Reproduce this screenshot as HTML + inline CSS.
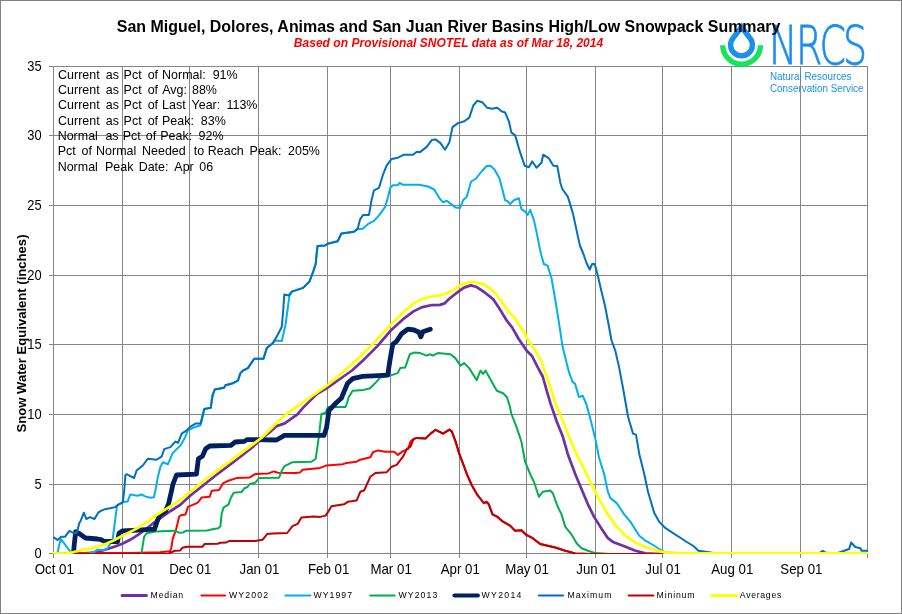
<!DOCTYPE html>
<html lang="en"><head><meta charset="utf-8"><title>San Miguel, Dolores, Animas and San Juan River Basins High/Low Snowpack Summary</title>
<style>
html,body{margin:0;padding:0;background:#fff;}
body{width:902px;height:614px;overflow:hidden;}
svg{display:block;}
text{font-family:"Liberation Sans",sans-serif;}
.ax{font-size:14px;fill:#000;}
.st{font-size:13.33px;fill:#000;white-space:pre;}
.lg{font-size:8.7px;fill:#000;}
.ln{fill:none;stroke-linejoin:round;stroke-linecap:round;}
</style></head><body>
<svg width="902" height="614" viewBox="0 0 902 614">
<rect x="0" y="0" width="902" height="614" fill="#fff"/>
<rect x="0.5" y="0.5" width="901" height="613" fill="none" stroke="#828282" stroke-width="1"/>

<g stroke="#868686" stroke-width="1" shape-rendering="crispEdges">
<line x1="49.0" y1="553.5" x2="868.0" y2="553.5"/>
<line x1="49.0" y1="484.5" x2="868.0" y2="484.5"/>
<line x1="49.0" y1="414.5" x2="868.0" y2="414.5"/>
<line x1="49.0" y1="344.5" x2="868.0" y2="344.5"/>
<line x1="49.0" y1="275.5" x2="868.0" y2="275.5"/>
<line x1="49.0" y1="205.5" x2="868.0" y2="205.5"/>
<line x1="49.0" y1="135.5" x2="868.0" y2="135.5"/>
<line x1="49.0" y1="66.5" x2="868.0" y2="66.5"/>
<line x1="53.5" y1="66.0" x2="53.5" y2="558.0"/>
<line x1="122.5" y1="66.0" x2="122.5" y2="558.0"/>
<line x1="189.5" y1="66.0" x2="189.5" y2="558.0"/>
<line x1="258.5" y1="66.0" x2="258.5" y2="558.0"/>
<line x1="327.5" y1="66.0" x2="327.5" y2="558.0"/>
<line x1="390.5" y1="66.0" x2="390.5" y2="558.0"/>
<line x1="459.5" y1="66.0" x2="459.5" y2="558.0"/>
<line x1="526.5" y1="66.0" x2="526.5" y2="558.0"/>
<line x1="595.5" y1="66.0" x2="595.5" y2="558.0"/>
<line x1="662.5" y1="66.0" x2="662.5" y2="558.0"/>
<line x1="731.5" y1="66.0" x2="731.5" y2="558.0"/>
<line x1="800.5" y1="66.0" x2="800.5" y2="558.0"/>
<line x1="867.5" y1="66.0" x2="867.5" y2="558.0"/>
</g>
<g id="logo">
<path d="M720.00,45.30 A21.6,21.6 0 0 0 763.20,45.30 L757.80,45.30 A16.2,16.2 0 0 1 725.40,45.30 Z" fill="#16E45C"/>
<path d="M741.50,22.60 L752.31,36.74 A13.60,13.60 0 1 1 730.69,36.74 Z M741.50,31.40 L748.04,40.06 A8.20,8.20 0 1 1 734.96,40.06 Z" fill="#1B8FEE" fill-rule="evenodd"/>
<text transform="translate(770,64.4) scale(0.71,1)" x="-1.4 36.6 69.7 102.8" y="0" font-weight="200" font-size="53.5" fill="#1B8FEE" stroke="#1B8FEE" stroke-width="0.7" vector-effect="non-scaling-stroke" style="font-family:'DejaVu Sans Light','DejaVu Sans',sans-serif;vector-effect:non-scaling-stroke">NRCS</text>
<text x="770" y="80.1" font-size="10" fill="#1B8FEE" textLength="81.5" lengthAdjust="spacingAndGlyphs">Natural Resources</text>
<text x="770" y="92.3" font-size="10" fill="#1B8FEE" textLength="93.5" lengthAdjust="spacingAndGlyphs">Conservation Service</text>
</g>
<g class="st">
<text transform="translate(0,78.8) scale(0.935,1)" x="62.1" y="0" dx="0 0 0 0 0 0 0 0 2.92 0 0 1.26 0 0 0 2.76 0 0 0.53 0 0 0 0 0 0 0 3.76 0 0">Current as Pct of Normal: 91%</text>
<text transform="translate(0,94.1) scale(0.935,1)" x="62.1" y="0" dx="0 0 0 0 0 0 0 0 2.92 0 0 1.26 0 0 0 2.76 0 0 1.49 0 0 0 0 1.63 0 0">Current as Pct of Avg: 88%</text>
<text transform="translate(0,109.4) scale(0.935,1)" x="62.1" y="0" dx="0 0 0 0 0 0 0 0 2.92 0 0 1.26 0 0 0 2.76 0 0 0.53 0 0 0 0 2.87 0 0 0 0 0 2.99 0 0 0">Current as Pct of Last Year: 113%</text>
<text transform="translate(0,124.7) scale(0.935,1)" x="62.1" y="0" dx="0 0 0 0 0 0 0 0 2.92 0 0 1.26 0 0 0 2.76 0 0 0.53 0 0 0 0 0 3.71 0 0">Current as Pct of Peak: 83%</text>
<text transform="translate(0,140.0) scale(0.935,1)" x="61.7" y="0" dx="0 0 0 0 0 0 0 4.36 0 0 0.72 0 0 0 1.69 0 0 0.64 0 0 0 0 0 3.18 0 0">Normal as Pct of Peak: 92%</text>
<text transform="translate(0,155.3) scale(0.935,1)" x="61.7" y="0" dx="0 0 0 0 2.44 0 0 0.85 0 0 0 0 0 0 2.44 0 0 0 0 0 0 4.85 0 0 0.26 0 0 0 0 0 2.53 0 0 0 0 0 3.34 0 0 0">Pct of Normal Needed to Reach Peak: 205%</text>
<text transform="translate(0,170.6) scale(0.935,1)" x="61.7" y="0" dx="0 0 0 0 0 0 0 3.93 0 0 0 0 1.91 0 0 0 0 0 3.32 0 0 0 2.29 0">Normal Peak Date: Apr 06</text>
</g>
<clipPath id="pc"><rect x="53" y="60" width="815" height="494"/></clipPath>
<g class="ln" clip-path="url(#pc)">
<path d="M53.5,554.0 L80.0,553.6 L95.0,552.6 L102.7,550.5 L108.3,548.8 L115.0,546.5 L122.3,543.8 L130.2,539.8 L138.4,534.6 L146.0,529.0 L154.5,522.3 L162.8,516.3 L170.6,511.0 L180.0,505.0 L190.5,495.5 L215.6,475.5 L235.6,460.4 L253.2,446.6 L262.0,438.5 L270.0,432.0 L276.7,426.1 L284.7,423.4 L297.4,414.4 L303.4,407.4 L316.8,394.1 L327.7,387.6 L343.5,376.5 L352.0,370.5 L364.1,359.4 L377.4,346.1 L390.8,330.5 L402.8,319.4 L413.5,311.4 L421.5,307.4 L430.8,305.2 L440.0,304.9 L444.7,303.4 L449.3,298.7 L456.0,293.4 L464.0,287.6 L470.7,285.4 L476.0,286.7 L484.1,292.0 L493.4,299.4 L498.7,307.4 L506.8,320.7 L512.1,327.4 L518.7,339.0 L526.7,350.7 L532.0,356.0 L537.4,366.7 L542.7,376.5 L546.7,390.7 L550.7,404.1 L554.7,415.5 L556.5,421.0 L562.8,436.6 L567.8,454.2 L575.3,474.2 L581.6,489.3 L587.9,504.3 L594.1,516.9 L600.4,526.9 L607.9,538.2 L612.9,541.9 L623.0,545.7 L635.5,550.7 L645.5,553.4 L660.0,554.0 L867.5,554.0" stroke="#7030A0" stroke-width="2.7"/>
<path d="M53.5,554.0 L64.0,554.0 L66.5,552.9 L130.0,552.9 L160.0,552.3 L170.0,551.3 L171.3,548.0 L172.8,538.4 L176.0,529.8 L179.2,516.5 L181.0,515.2 L185.5,514.4 L188.0,506.8 L196.8,503.1 L198.4,502.0 L201.7,497.4 L209.7,496.8 L211.7,490.8 L219.0,490.1 L223.0,483.4 L228.4,480.7 L236.4,478.1 L249.8,477.4 L255.1,474.1 L268.5,473.4 L273.8,471.4 L277.8,472.7 L295.0,473.0 L300.1,472.4 L302.6,469.7 L320.2,467.9 L326.5,465.4 L342.8,464.2 L346.5,462.9 L356.6,461.7 L360.3,459.7 L370.4,457.2 L372.9,452.2 L377.9,450.4 L385.4,451.7 L394.2,451.7 L397.9,454.9 L403.0,451.1 L408.0,449.1 L410.5,441.6 L413.5,439.1 L416.8,437.9 L425.5,438.6 L430.6,433.6 L435.6,429.8 L443.1,433.6 L449.4,429.6 L451.9,431.6 L455.6,441.6 L459.4,454.2 L463.2,464.2 L466.9,474.2 L471.9,485.5 L477.0,494.3 L481.0,499.5 L483.8,503.1 L486.3,501.8 L488.8,504.3 L492.5,514.4 L497.6,516.9 L502.6,521.4 L510.1,525.6 L515.1,530.7 L521.4,530.2 L526.4,534.9 L532.7,538.2 L540.2,544.0 L547.7,545.7 L555.2,547.5 L565.3,550.7 L575.3,553.4 L590.0,554.0 L662.0,554.0" stroke="#FF0000" stroke-width="2"/>
<path d="M53.5,554.0 L57.3,554.0 L58.3,549.0 L60.6,539.2 L61.4,539.6 L68.8,549.7 L72.0,554.0 L88.8,553.4 L94.5,551.8 L97.6,549.7 L103.9,550.3 L107.6,548.4 L108.9,545.9 L112.7,539.0 L115.2,519.6 L117.0,505.8 L118.3,504.6 L122.7,502.1 L127.7,501.4 L130.2,494.5 L137.7,495.8 L141.5,494.5 L145.2,496.4 L150.3,497.7 L153.9,497.2 L155.9,488.0 L157.9,476.7 L160.4,466.7 L162.9,462.2 L167.9,464.2 L172.9,452.9 L176.7,449.1 L180.5,445.4 L184.2,439.1 L188.0,430.3 L193.0,427.8 L200.5,425.3 L201.5,422.0 L204.3,409.0 L210.8,407.8 L211.8,400.0 L212.8,394.5 L214.8,389.4 L224.1,387.7 L225.4,385.2 L232.9,383.2 L237.9,380.7 L240.4,373.1 L242.9,370.6 L247.9,368.1 L254.2,358.8 L263.5,358.8 L266.8,348.1 L273.0,343.0 L274.3,340.5 L281.8,341.0 L285.6,324.2 L289.3,296.6 L291.8,291.6 L303.1,287.9 L309.4,281.6 L313.2,271.6 L315.7,264.0 L316.6,254.0 L317.6,246.0 L325.1,245.5 L327.6,243.7 L337.7,241.2 L341.4,233.4 L354.0,231.7 L357.7,229.2 L362.7,228.7 L367.8,224.2 L374.0,220.9 L379.0,215.4 L385.3,206.6 L387.8,197.8 L390.3,187.8 L392.8,185.3 L397.9,185.3 L399.6,182.8 L402.9,184.8 L419.2,184.8 L428.0,186.5 L434.2,189.5 L439.2,197.8 L443.0,202.3 L446.8,200.8 L450.5,203.6 L455.5,207.4 L460.1,207.9 L463.1,200.3 L466.8,196.6 L471.1,181.5 L475.6,179.0 L481.6,171.5 L486.6,166.0 L490.4,165.7 L494.5,169.5 L499.5,178.5 L502.6,190.3 L505.1,200.3 L507.6,201.1 L510.1,204.1 L513.9,200.3 L518.9,198.3 L521.4,209.1 L525.2,211.6 L527.7,214.9 L530.2,209.9 L534.0,220.4 L537.2,235.4 L540.2,250.5 L541.0,254.0 L543.8,264.0 L547.6,265.6 L551.5,278.0 L555.3,300.0 L558.8,321.7 L562.6,346.8 L566.4,361.9 L568.9,371.9 L572.6,381.9 L575.1,383.9 L578.9,397.0 L582.7,395.7 L586.6,405.0 L590.4,419.0 L595.4,439.1 L599.1,457.9 L604.2,474.2 L607.9,491.8 L610.4,498.1 L616.7,503.1 L624.2,514.4 L630.5,521.9 L639.3,535.7 L645.5,540.7 L653.1,545.0 L659.3,549.0 L665.6,552.6 L700.0,554.0 L867.5,554.0" stroke="#00B0F0" stroke-width="2"/>
<path d="M53.5,554.0 L141.0,554.0 L141.6,552.6 L144.1,536.9 L146.6,533.2 L155.4,531.4 L175.0,530.7 L179.0,532.7 L183.0,532.5 L186.3,530.7 L207.0,530.5 L213.7,529.1 L218.4,528.3 L220.4,526.1 L221.7,513.4 L223.7,507.4 L228.4,504.7 L231.1,497.4 L233.7,492.7 L241.8,491.9 L244.4,488.2 L247.5,487.0 L249.8,484.0 L255.1,482.8 L259.1,478.1 L279.1,477.7 L281.8,470.7 L284.5,466.1 L292.6,462.2 L311.4,461.7 L315.7,458.7 L318.9,436.6 L321.4,414.0 L325.7,412.8 L327.7,407.0 L345.5,407.0 L347.0,403.0 L348.8,397.0 L352.6,390.7 L363.9,389.9 L370.1,388.2 L376.4,381.9 L380.2,377.4 L390.2,375.6 L397.7,373.1 L400.2,368.1 L405.2,367.4 L409.8,354.3 L414.0,352.6 L420.3,353.1 L426.6,355.6 L430.3,354.3 L432.8,355.6 L437.9,353.1 L450.4,354.3 L455.4,358.1 L460.4,365.6 L464.2,363.1 L469.2,368.1 L476.7,380.2 L480.5,370.6 L483.0,373.9 L485.5,370.6 L490.5,379.4 L496.8,390.7 L503.1,393.2 L506.8,397.0 L509.5,405.0 L511.4,414.0 L516.4,426.6 L521.4,441.6 L525.1,461.7 L530.2,474.2 L533.9,481.8 L538.9,496.8 L542.7,491.8 L550.2,490.5 L552.7,493.0 L557.8,506.8 L561.5,514.4 L565.3,526.9 L571.5,534.4 L576.6,543.2 L581.6,548.2 L587.9,550.7 L595.4,553.1 L610.0,554.0 L867.5,554.0" stroke="#00B050" stroke-width="2"/>
<path d="M73.5,553.4 L74.2,545.0 L75.7,531.7 L78.8,533.3 L85.5,538.0 L97.6,539.0 L101.0,539.6 L104.5,541.5 L117.6,541.5 L119.0,533.3 L122.3,531.0 L137.7,530.2 L154.5,529.2 L157.2,521.2 L159.9,514.7 L165.3,511.5 L168.5,504.0 L171.7,490.0 L172.9,484.3 L176.5,475.0 L196.4,474.2 L198.4,458.7 L202.4,456.2 L205.7,448.7 L209.7,446.0 L231.0,445.4 L235.0,442.0 L244.4,441.4 L247.0,439.6 L276.5,440.0 L284.5,435.4 L324.0,435.4 L326.5,427.8 L329.0,410.3 L332.7,406.5 L336.0,403.0 L341.3,398.2 L347.6,383.2 L352.6,378.7 L362.6,376.4 L387.7,375.1 L389.7,361.9 L392.7,344.3 L396.5,341.3 L401.5,333.8 L407.8,329.2 L414.0,330.0 L419.0,332.3 L420.8,336.8 L422.8,331.8 L430.3,329.2" stroke="#002060" stroke-width="4.8"/>
<path d="M53.5,537.5 L54.4,537.8 L57.5,539.9 L61.3,536.8 L65.0,536.8 L69.4,530.9 L73.2,532.8 L75.0,533.4 L77.0,532.1 L79.4,522.7 L80.7,520.8 L83.8,512.7 L86.3,519.0 L90.1,517.1 L94.5,519.0 L98.2,512.7 L101.4,510.6 L105.8,508.9 L110.2,508.3 L115.2,507.1 L118.3,504.6 L122.7,502.6 L124.3,490.0 L125.3,475.5 L126.5,474.2 L134.1,478.0 L136.6,470.5 L142.8,465.5 L147.9,458.7 L156.6,459.7 L161.6,456.7 L164.2,449.1 L170.4,447.1 L175.4,441.6 L178.0,442.9 L181.7,433.6 L186.7,430.3 L190.5,426.6 L195.5,423.6 L200.5,423.6 L204.3,409.0 L210.8,407.8 L211.8,400.0 L212.8,394.5 L214.8,389.4 L224.1,387.7 L225.4,385.2 L232.9,383.2 L237.9,380.7 L240.4,373.1 L242.9,370.6 L247.9,368.1 L254.2,358.8 L263.5,358.8 L266.8,348.1 L273.0,343.0 L278.0,334.3 L281.8,326.7 L283.1,311.7 L284.3,294.6 L288.6,295.4 L291.8,291.6 L303.1,287.9 L309.4,281.6 L313.2,271.6 L315.7,264.0 L316.6,254.0 L317.6,246.0 L325.1,245.5 L327.6,243.7 L337.7,241.2 L341.4,233.4 L354.0,231.7 L357.7,228.4 L360.2,219.1 L363.2,214.9 L369.0,214.9 L371.5,200.3 L374.0,190.3 L379.0,187.8 L382.8,175.2 L386.6,165.7 L391.6,158.9 L397.9,157.7 L404.1,154.7 L412.9,154.7 L416.7,151.9 L420.4,151.9 L426.7,146.9 L431.7,140.1 L435.5,139.4 L440.5,143.1 L445.0,149.7 L449.3,142.6 L452.5,127.1 L458.0,123.1 L464.3,121.3 L469.3,117.6 L473.3,105.5 L477.2,100.8 L482.2,102.2 L487.2,107.8 L492.2,108.8 L497.3,107.8 L501.4,111.3 L505.1,112.5 L508.9,121.3 L511.4,132.6 L515.1,135.1 L520.2,152.7 L524.7,165.7 L528.9,167.2 L532.2,161.4 L536.5,167.7 L541.5,162.7 L543.2,154.7 L549.0,158.4 L553.3,165.7 L557.3,166.0 L560.3,182.8 L562.3,189.0 L567.8,196.6 L572.8,212.9 L576.6,230.4 L579.9,245.5 L583.4,254.0 L586.4,262.8 L589.7,269.5 L592.2,264.0 L594.7,264.0 L597.7,275.3 L601.5,291.6 L605.2,306.7 L609.0,326.7 L611.5,340.5 L615.3,350.6 L619.0,366.9 L622.8,386.9 L626.0,405.0 L628.0,416.5 L633.0,433.6 L636.0,434.6 L639.3,454.2 L644.3,474.2 L648.0,491.8 L654.3,513.1 L659.3,521.9 L665.6,528.2 L673.1,533.2 L680.0,537.5 L686.0,541.5 L693.4,546.0 L698.4,550.7 L705.7,551.8 L713.6,553.1 L740.0,554.0 L819.0,554.0 L820.2,552.6 L822.7,550.7 L825.2,552.6 L835.0,554.0 L841.5,551.8 L849.1,549.0 L851.1,542.5 L855.3,547.0 L860.4,548.2 L861.6,550.7 L867.5,550.7" stroke="#0070C0" stroke-width="2"/>
<path d="M53.5,554.0 L160.0,554.0 L168.0,554.0 L172.0,552.0 L175.0,550.8 L180.3,550.4 L182.3,547.8 L187.0,546.8 L202.4,546.8 L204.4,544.1 L217.7,543.7 L220.4,542.8 L226.4,542.5 L229.1,541.0 L255.1,541.0 L262.5,539.8 L267.1,534.1 L272.5,533.4 L287.2,533.0 L292.5,526.1 L297.6,523.9 L301.4,517.4 L313.9,516.4 L320.2,516.9 L325.7,515.6 L331.5,506.3 L344.0,504.3 L347.8,501.8 L356.6,500.6 L360.3,491.8 L364.1,490.5 L370.4,476.7 L375.4,473.0 L386.7,472.2 L391.7,466.7 L396.7,464.9 L403.0,456.7 L406.7,449.1 L410.5,446.6 L413.5,439.1 L416.8,437.9 L425.5,438.6 L430.6,433.6 L435.6,429.8 L443.1,433.6 L449.4,429.6 L451.9,431.6 L455.6,441.6 L459.4,454.2 L463.2,464.2 L466.9,474.2 L471.9,485.5 L477.0,494.3 L481.0,499.5 L483.8,503.1 L486.3,501.8 L488.8,504.3 L492.5,514.4 L497.6,516.9 L502.6,521.4 L510.1,525.6 L515.1,530.7 L521.4,530.2 L526.4,534.9 L532.7,538.2 L540.2,544.0 L547.7,545.7 L555.2,547.5 L565.3,550.7 L575.3,553.4 L590.0,554.0 L662.0,554.0" stroke="#C00000" stroke-width="2"/>
<path d="M53.5,553.4 L65.0,553.6 L72.6,552.3 L80.0,550.5 L90.0,548.6 L98.0,546.5 L106.1,543.8 L114.0,540.2 L122.3,535.7 L130.0,532.0 L138.4,527.6 L146.0,522.5 L154.5,516.3 L162.0,511.5 L170.6,506.1 L180.0,500.2 L195.5,487.5 L215.6,471.7 L233.1,459.2 L253.2,444.1 L262.0,437.5 L267.4,432.0 L276.7,422.8 L285.8,414.4 L303.4,402.1 L316.8,392.7 L327.7,385.0 L343.5,371.8 L356.8,360.0 L373.4,343.4 L390.8,324.7 L402.8,312.7 L413.5,303.4 L422.8,298.7 L433.5,296.0 L440.0,295.3 L445.3,294.0 L453.4,290.0 L461.4,284.7 L468.0,282.4 L474.7,282.4 L482.7,284.0 L489.4,288.0 L496.1,294.0 L502.8,303.4 L509.4,312.7 L513.4,316.3 L518.8,324.7 L524.1,332.1 L527.4,339.0 L534.7,349.3 L541.4,361.4 L545.4,373.4 L550.7,388.0 L556.1,405.4 L560.1,414.8 L562.8,421.0 L569.0,436.6 L576.6,454.2 L585.3,471.7 L592.9,486.8 L599.1,499.3 L607.9,514.4 L616.7,526.9 L625.5,535.7 L635.5,542.7 L645.5,547.0 L655.6,550.2 L665.6,552.6 L680.0,553.4 L867.5,553.4" stroke="#FFFF00" stroke-width="2.7"/>
</g>
<g class="ax" text-anchor="end">
<text transform="translate(41.6,557.9) scale(0.92,1)">0</text>
<text transform="translate(41.6,488.9) scale(0.92,1)">5</text>
<text transform="translate(41.6,418.9) scale(0.92,1)">10</text>
<text transform="translate(41.6,348.9) scale(0.92,1)">15</text>
<text transform="translate(41.6,279.9) scale(0.92,1)">20</text>
<text transform="translate(41.6,209.9) scale(0.92,1)">25</text>
<text transform="translate(41.6,139.9) scale(0.92,1)">30</text>
<text transform="translate(41.6,70.9) scale(0.92,1)">35</text>
</g>
<g class="ax" text-anchor="middle">
<text transform="translate(54.3,573.8) scale(0.95,1)">Oct 01</text>
<text transform="translate(123.4,573.8) scale(0.95,1)">Nov 01</text>
<text transform="translate(190.3,573.8) scale(0.95,1)">Dec 01</text>
<text transform="translate(259.5,573.8) scale(0.95,1)">Jan 01</text>
<text transform="translate(328.6,573.8) scale(0.95,1)">Feb 01</text>
<text transform="translate(391.1,573.8) scale(0.95,1)">Mar 01</text>
<text transform="translate(460.2,573.8) scale(0.95,1)">Apr 01</text>
<text transform="translate(527.1,573.8) scale(0.95,1)">May 01</text>
<text transform="translate(596.2,573.8) scale(0.95,1)">Jun 01</text>
<text transform="translate(663.1,573.8) scale(0.95,1)">Jul 01</text>
<text transform="translate(732.3,573.8) scale(0.95,1)">Aug 01</text>
<text transform="translate(801.4,573.8) scale(0.95,1)">Sep 01</text>
</g>
<text transform="translate(25.6,333.5) rotate(-90)" text-anchor="middle" font-size="13.33" font-weight="bold" textLength="198" lengthAdjust="spacingAndGlyphs">Snow Water Equivalent (inches)</text>
<text x="448.6" y="31.5" text-anchor="middle" font-size="16" font-weight="bold" textLength="663.6" lengthAdjust="spacingAndGlyphs">San Miguel, Dolores, Animas and San Juan River Basins High/Low Snowpack Summary</text>
<text x="448.5" y="47" text-anchor="middle" font-size="12" font-weight="bold" font-style="italic" fill="#FF0000" textLength="309.4" lengthAdjust="spacing">Based on Provisional SNOTEL data as of Mar 18, 2014</text>
<line x1="122.1" y1="595.5" x2="146.4" y2="595.5" stroke="#7030A0" stroke-width="3" stroke-linecap="round"/>
<text class="lg" x="150.6" y="597.7" textLength="32.6" lengthAdjust="spacing">Median</text>
<line x1="201.4" y1="595.5" x2="225.1" y2="595.5" stroke="#FF0000" stroke-width="2" stroke-linecap="round"/>
<text class="lg" x="229.0" y="597.7" textLength="39.2" lengthAdjust="spacing">WY2002</text>
<line x1="285.4" y1="595.5" x2="310.5" y2="595.5" stroke="#00B0F0" stroke-width="2" stroke-linecap="round"/>
<text class="lg" x="313.6" y="597.7" textLength="38.4" lengthAdjust="spacing">WY1997</text>
<line x1="370.2" y1="595.5" x2="394.7" y2="595.5" stroke="#00B050" stroke-width="2" stroke-linecap="round"/>
<text class="lg" x="398.4" y="597.7" textLength="39.0" lengthAdjust="spacing">WY2013</text>
<line x1="454.4" y1="595.5" x2="477.9" y2="595.5" stroke="#002060" stroke-width="4" stroke-linecap="round"/>
<text class="lg" x="481.6" y="597.7" textLength="39.8" lengthAdjust="spacing">WY2014</text>
<line x1="538.8" y1="595.5" x2="563.1" y2="595.5" stroke="#0070C0" stroke-width="2" stroke-linecap="round"/>
<text class="lg" x="567.4" y="597.7" textLength="44.0" lengthAdjust="spacing">Maximum</text>
<line x1="628.6" y1="595.5" x2="653.3" y2="595.5" stroke="#C00000" stroke-width="2" stroke-linecap="round"/>
<text class="lg" x="656.6" y="597.7" textLength="37.9" lengthAdjust="spacing">Mininum</text>
<line x1="711.9" y1="595.5" x2="736.6" y2="595.5" stroke="#FFFF00" stroke-width="3" stroke-linecap="round"/>
<text class="lg" x="739.8" y="597.7" textLength="41.5" lengthAdjust="spacing">Averages</text>
</svg></body></html>
